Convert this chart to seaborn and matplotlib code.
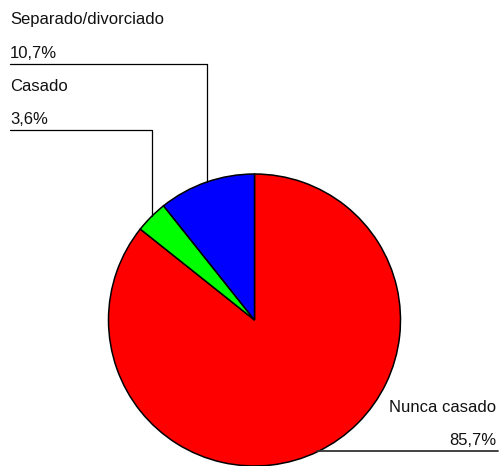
import numpy as np
import matplotlib
matplotlib.use("Agg")
import matplotlib.pyplot as plt
import seaborn as sns

categories = ["Nunca casado", "Casado", "Separado/divorciado"]
values = [85.7, 3.6, 10.7]
pct_labels = ["85,7%", "3,6%", "10,7%"]
colors = ["#FF0000", "#00FF00", "#0000FF"]

sns.set_theme(style="white")
plt.rcParams['font.family'] = ['Liberation Sans', 'DejaVu Sans']

W, H = 501, 466
fig = plt.figure(figsize=(W / 100, H / 100), dpi=100)
ax = fig.add_axes([0, 0, 1, 1])

cx, cy, r = 254.5, 466 - 320, 146
ax.pie(values, colors=colors, startangle=90, counterclock=False,
       center=(cx, cy), radius=r,
       wedgeprops=dict(edgecolor="black", linewidth=1.1))
ax.set_xlim(0, W)
ax.set_ylim(0, H)
ax.set_aspect("auto")
ax.axis("off")

def edge_y(x):
    return cy + np.sqrt(max(r ** 2 - (x - cx) ** 2, 0))

fs = 12
tc = "#111111"
# Separado/divorciado
ax.text(10, 442, categories[2], fontsize=fs, color=tc, ha="left", va="baseline")
ax.text(10, 408, pct_labels[2], fontsize=fs, color=tc, ha="left", va="baseline")
ax.plot([10, 207, 207], [402, 402, edge_y(207)], color="black", lw=0.9)
# Casado
ax.text(10, 375, categories[1], fontsize=fs, color=tc, ha="left", va="baseline")
ax.text(10, 342, pct_labels[1], fontsize=fs, color=tc, ha="left", va="baseline")
ax.plot([10, 152, 152], [336, 336, edge_y(152)], color="black", lw=0.9)
# Nunca casado
ax.text(496, 54, categories[0], fontsize=fs, color=tc, ha="right", va="baseline")
ax.text(496, 21, pct_labels[0], fontsize=fs, color=tc, ha="right", va="baseline")
ax.plot([317, 498], [15, 15], color="#333333", lw=1.3)

fig.savefig("out.png", dpi=100)
